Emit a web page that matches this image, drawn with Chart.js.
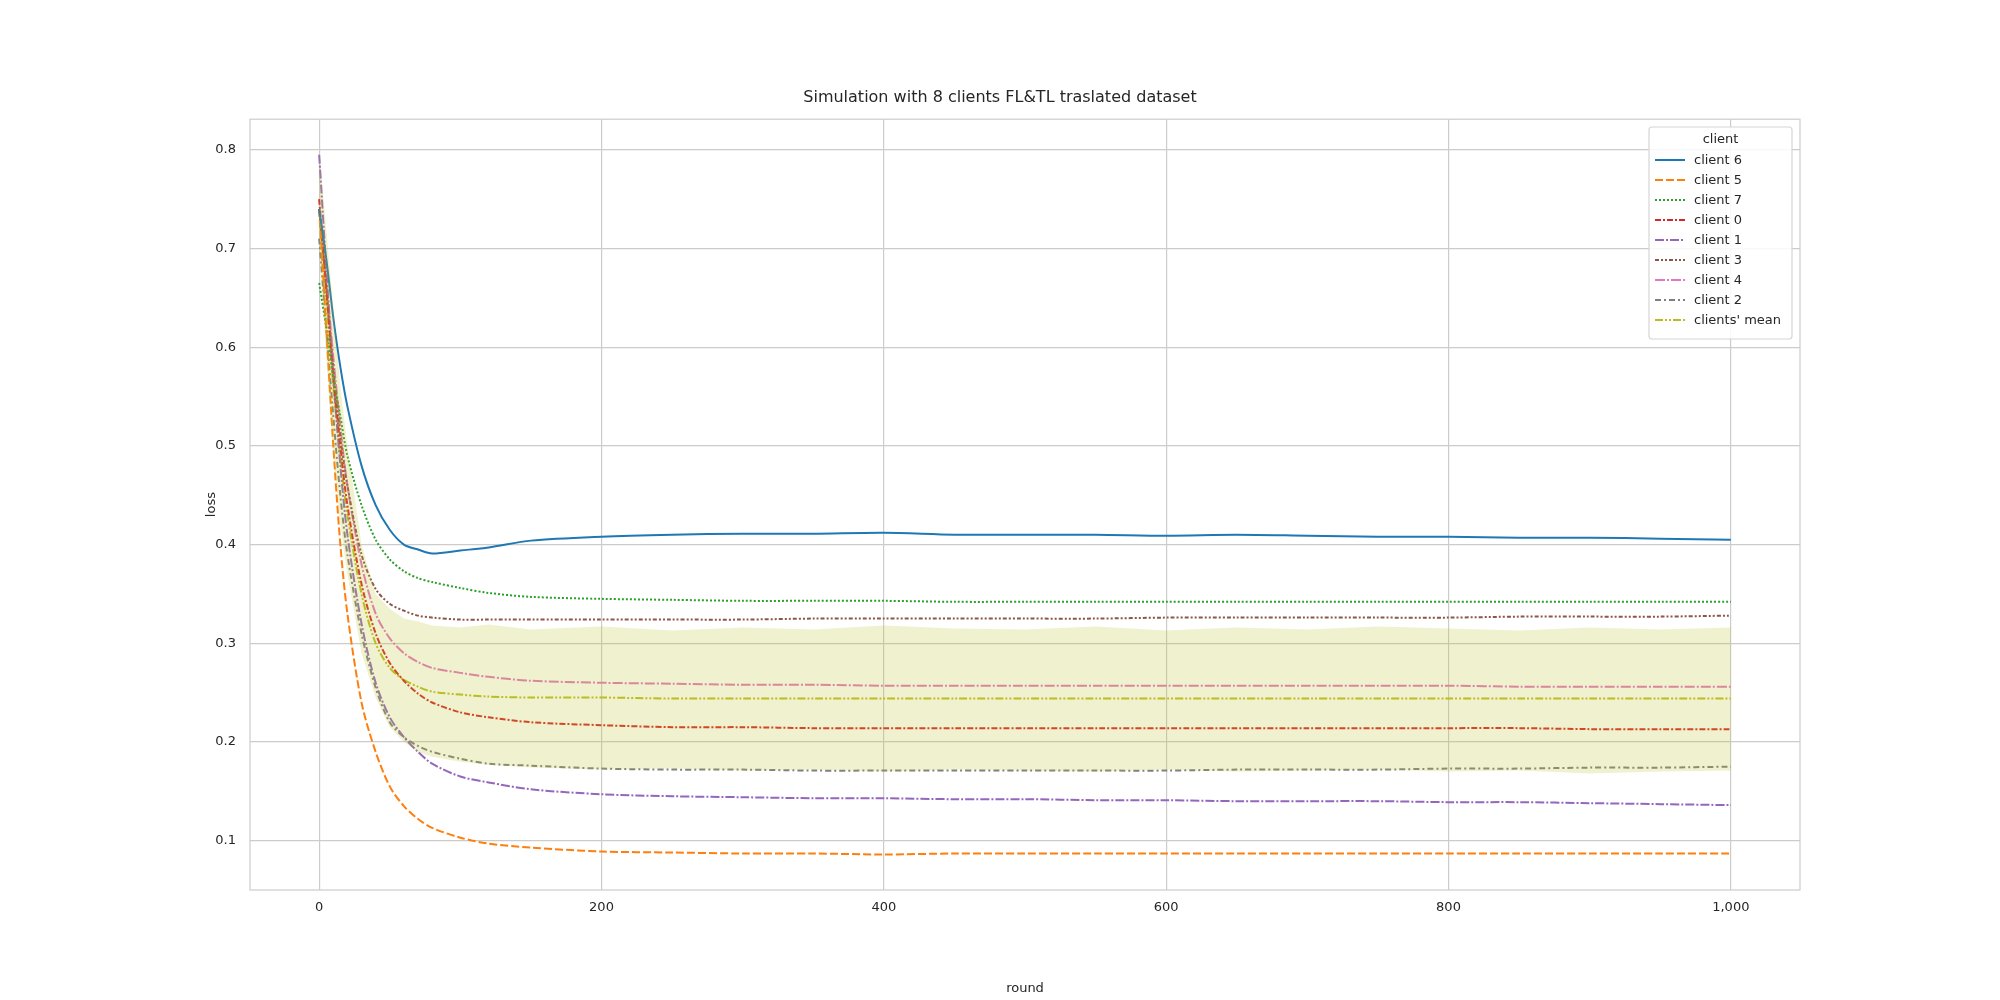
<!DOCTYPE html>
<html>
<head>
<meta charset="utf-8">
<script src="https://cdn.jsdelivr.net/npm/chart.js@4"></script>
<style>
  body { margin: 0; background: #fff; }
  #wrap { width: 2000px; height: 1000px; }
</style>
</head>
<body>
<div id="wrap"><canvas id="myChart"></canvas></div>
<script>
const rounds = [0, 5, 10, 15, 20, 30, 40, 50, 60, 70, 80, 100, 120, 150, 200, 250, 300, 350, 400, 450, 500, 550, 600, 650, 700, 750, 800, 850, 900, 950, 1000];
const xTicks = [0, 200, 400, 600, 800, 1000];
const yTicks = [0.1, 0.2, 0.3, 0.4, 0.5, 0.6, 0.7, 0.8];

const client6 = [0.74, 0.69, 0.63, 0.58, 0.54, 0.48, 0.44, 0.415, 0.40, 0.395, 0.391, 0.394, 0.397, 0.404, 0.408, 0.410, 0.411, 0.411, 0.412, 0.410, 0.410, 0.410, 0.409, 0.410, 0.409, 0.408, 0.408, 0.407, 0.407, 0.406, 0.405];
const client5 = [0.74, 0.62, 0.50, 0.40, 0.33, 0.24, 0.19, 0.155, 0.135, 0.122, 0.113, 0.103, 0.097, 0.093, 0.089, 0.088, 0.087, 0.087, 0.086, 0.087, 0.087, 0.087, 0.087, 0.087, 0.087, 0.087, 0.087, 0.087, 0.087, 0.087, 0.087];
const client7 = [0.665, 0.62, 0.57, 0.53, 0.49, 0.44, 0.405, 0.385, 0.373, 0.366, 0.362, 0.356, 0.351, 0.347, 0.345, 0.344, 0.343, 0.343, 0.343, 0.342, 0.342, 0.342, 0.342, 0.342, 0.342, 0.342, 0.342, 0.342, 0.342, 0.342, 0.342];
const client0 = [0.75, 0.66, 0.57, 0.50, 0.44, 0.36, 0.31, 0.28, 0.262, 0.249, 0.240, 0.230, 0.225, 0.220, 0.217, 0.215, 0.215, 0.214, 0.214, 0.214, 0.214, 0.214, 0.214, 0.214, 0.214, 0.214, 0.214, 0.214, 0.213, 0.213, 0.213];
const client1 = [0.795, 0.68, 0.57, 0.48, 0.41, 0.32, 0.26, 0.225, 0.205, 0.19, 0.178, 0.165, 0.159, 0.152, 0.147, 0.145, 0.144, 0.143, 0.143, 0.142, 0.142, 0.141, 0.141, 0.140, 0.140, 0.140, 0.139, 0.139, 0.138, 0.137, 0.136];
const client3 = [0.74, 0.66, 0.58, 0.51, 0.46, 0.39, 0.355, 0.34, 0.333, 0.328, 0.326, 0.324, 0.324, 0.324, 0.324, 0.324, 0.324, 0.325, 0.325, 0.325, 0.325, 0.325, 0.326, 0.326, 0.326, 0.326, 0.326, 0.327, 0.327, 0.327, 0.328];
const client4 = [0.74, 0.67, 0.59, 0.52, 0.46, 0.38, 0.33, 0.305, 0.29, 0.281, 0.275, 0.270, 0.266, 0.262, 0.260, 0.259, 0.258, 0.258, 0.257, 0.257, 0.257, 0.257, 0.257, 0.257, 0.257, 0.257, 0.257, 0.256, 0.256, 0.256, 0.256];
const client2 = [0.71, 0.62, 0.53, 0.45, 0.39, 0.31, 0.255, 0.22, 0.205, 0.196, 0.19, 0.183, 0.178, 0.176, 0.173, 0.172, 0.172, 0.171, 0.171, 0.171, 0.171, 0.171, 0.171, 0.172, 0.172, 0.172, 0.173, 0.173, 0.174, 0.174, 0.175];
const meanLoss = [0.74, 0.65, 0.56, 0.49, 0.43, 0.35, 0.30, 0.275, 0.263, 0.256, 0.251, 0.248, 0.246, 0.245, 0.245, 0.244, 0.244, 0.244, 0.244, 0.244, 0.244, 0.244, 0.244, 0.244, 0.244, 0.244, 0.244, 0.244, 0.244, 0.244, 0.244];
const bandUpper = [0.80, 0.72, 0.64, 0.56, 0.50, 0.40, 0.35, 0.335, 0.325, 0.322, 0.318, 0.316, 0.319, 0.314, 0.317, 0.313, 0.316, 0.314, 0.318, 0.315, 0.314, 0.317, 0.313, 0.316, 0.314, 0.317, 0.315, 0.313, 0.316, 0.314, 0.316];
const bandLower = [0.70, 0.59, 0.49, 0.42, 0.37, 0.29, 0.245, 0.215, 0.20, 0.19, 0.185, 0.180, 0.177, 0.174, 0.172, 0.173, 0.171, 0.172, 0.170, 0.172, 0.171, 0.170, 0.172, 0.170, 0.171, 0.172, 0.170, 0.171, 0.168, 0.170, 0.171];

const series = [
  { label: "client 6", values: client6, color: "#1f77b4", dash: [] },
  { label: "client 5", values: client5, color: "#ff7f0e", dash: [8, 3] },
  { label: "client 7", values: client7, color: "#2ca02c", dash: [2, 2] },
  { label: "client 0", values: client0, color: "#d62728", dash: [6, 2, 2, 2] },
  { label: "client 1", values: client1, color: "#9467bd", dash: [9, 2, 2, 2] },
  { label: "client 3", values: client3, color: "#8c564b", dash: [4, 2, 2, 2, 2, 2] },
  { label: "client 4", values: client4, color: "#e377c2", dash: [10, 2, 2, 2] },
  { label: "client 2", values: client2, color: "#7f7f7f", dash: [6, 3, 2, 3] },
  { label: "clients' mean", values: meanLoss, color: "#bcbd22", dash: [8, 2, 2, 2, 2, 2] }
];

const pts = arr => arr.map((v, i) => ({ x: rounds[i], y: v }));

const datasets = [
  { label: "_upper", data: pts(bandUpper), borderWidth: 0, pointRadius: 0, fill: false, borderColor: "rgba(0,0,0,0)" },
  { label: "_lower", data: pts(bandLower), borderWidth: 0, pointRadius: 0, fill: "-1", borderColor: "rgba(0,0,0,0)", backgroundColor: "rgba(188,189,34,0.22)" }
].concat(series.map(s => ({
  label: s.label, data: pts(s.values), borderColor: s.color, borderDash: s.dash,
  borderWidth: 2, pointRadius: 0, fill: false, tension: 0.3
})));

const frameAndLegend = {
  id: "frameAndLegend",
  afterDraw(chart) {
    const { ctx, chartArea: a } = chart;
    ctx.save();
    ctx.strokeStyle = "#cccccc";
    ctx.lineWidth = 1.2;
    ctx.strokeRect(a.left, a.top, a.right - a.left, a.bottom - a.top);
    // legend box
    const bx = 1649, by = 127, bw = 143, bh = 212;
    ctx.fillStyle = "rgba(255,255,255,0.85)";
    ctx.strokeStyle = "#d6d6d6";
    ctx.beginPath();
    ctx.roundRect(bx, by, bw, bh, 3);
    ctx.fill();
    ctx.stroke();
    ctx.fillStyle = "#262626";
    ctx.font = "13px 'DejaVu Sans'";
    ctx.textAlign = "center";
    ctx.textBaseline = "middle";
    ctx.fillText("client", bx + bw / 2, by + 13);
    ctx.textAlign = "left";
    series.forEach((s, i) => {
      const y = by + 33 + i * 20;
      ctx.strokeStyle = s.color;
      ctx.lineWidth = 2;
      ctx.setLineDash(s.dash);
      ctx.beginPath();
      ctx.moveTo(bx + 6, y);
      ctx.lineTo(bx + 36, y);
      ctx.stroke();
      ctx.setLineDash([]);
      ctx.fillStyle = "#262626";
      ctx.fillText(s.label, bx + 45, y + 1);
    });
    ctx.restore();
  }
};

const tickFont = { family: "DejaVu Sans", size: 13 };

new Chart(document.getElementById("myChart"), {
  type: "line",
  data: { datasets },
  options: {
    responsive: true,
    maintainAspectRatio: false,
    animation: false,
    layout: { padding: { left: 200, right: 200, top: 88, bottom: 0 } },
    plugins: {
      legend: { display: false },
      tooltip: { enabled: false },
      title: {
        display: true, text: "Simulation with 8 clients FL&TL traslated dataset",
        color: "#262626", font: { family: "DejaVu Sans", size: 16, weight: "normal" },
        padding: { top: 0, bottom: 12 }
      }
    },
    scales: {
      x: {
        type: "linear", min: -49, max: 1049,
        afterBuildTicks: sc => { sc.ticks = xTicks.map(v => ({ value: v })); },
        afterFit: sc => { sc.height = 110; },
        grid: { color: "#cccccc", lineWidth: 1.2, drawTicks: false },
        border: { display: false },
        ticks: { color: "#262626", font: tickFont, padding: 10 },
        title: { display: true, text: "round", color: "#262626", font: tickFont, padding: { top: 4 } }
      },
      y: {
        min: 0.05, max: 0.831,
        afterBuildTicks: sc => { sc.ticks = yTicks.map(v => ({ value: v })); },
        afterFit: sc => { sc.width = 50; },
        grid: { color: "#cccccc", lineWidth: 1.2, drawTicks: false },
        border: { display: false },
        ticks: { color: "#262626", font: tickFont, padding: 14, callback: v => v.toFixed(1) },
        title: { display: true, text: "loss", color: "#262626", font: tickFont, padding: { bottom: 0 } }
      }
    }
  },
  plugins: [frameAndLegend]
});
</script>
</body>
</html>
